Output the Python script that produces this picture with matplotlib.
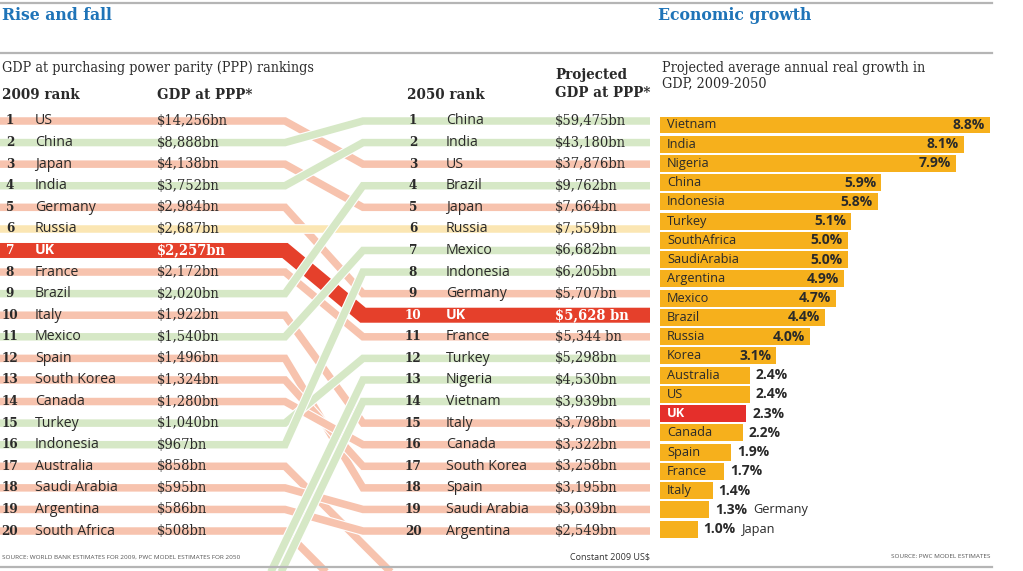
import matplotlib
matplotlib.use('Agg')
import matplotlib.pyplot as plt
import matplotlib.patheffects as pe
from matplotlib.lines import Line2D

# ---------------- data ----------------
countries_2009 = ['US', 'China', 'Japan', 'India', 'Germany', 'Russia', 'UK', 'France',
                  'Brazil', 'Italy', 'Mexico', 'Spain', 'South Korea', 'Canada', 'Turkey',
                  'Indonesia', 'Australia', 'Saudi Arabia', 'Argentina', 'South Africa']
gdp_2009 = [14256, 8888, 4138, 3752, 2984, 2687, 2257, 2172, 2020, 1922,
            1540, 1496, 1324, 1280, 1040, 967, 858, 595, 586, 508]

countries_2050 = ['China', 'India', 'US', 'Brazil', 'Japan', 'Russia', 'Mexico', 'Indonesia',
                  'Germany', 'UK', 'France', 'Turkey', 'Nigeria', 'Vietnam', 'Italy', 'Canada',
                  'South Korea', 'Spain', 'Saudi Arabia', 'Argentina']
gdp_2050 = [59475, 43180, 37876, 9762, 7664, 7559, 6682, 6205, 5707, 5628,
            5344, 5298, 4530, 3939, 3798, 3322, 3258, 3195, 3039, 2549]
gdp_2050_spaced = ['UK', 'France']   # printed as "$x bn" in the original

growth_countries = ['Vietnam', 'India', 'Nigeria', 'China', 'Indonesia', 'Turkey', 'SouthAfrica',
                    'SaudiArabia', 'Argentina', 'Mexico', 'Brazil', 'Russia', 'Korea', 'Australia',
                    'US', 'UK', 'Canada', 'Spain', 'France', 'Italy', 'Germany', 'Japan']
growth_values = [8.8, 8.1, 7.9, 5.9, 5.8, 5.1, 5.0, 5.0, 4.9, 4.7, 4.4, 4.0, 3.1, 2.4,
                 2.4, 2.3, 2.2, 1.9, 1.7, 1.4, 1.3, 1.0]
growth_inside = ['Vietnam', 'India', 'Nigeria', 'China', 'Indonesia', 'Turkey', 'SouthAfrica',
                 'SaudiArabia', 'Argentina', 'Mexico', 'Brazil', 'Russia', 'Korea']
growth_name_after = ['Germany', 'Japan']

# ---------------- style ----------------
W, H = 1023, 571
SERIF = 'DejaVu Serif'
COND = 'condensed'
SANS = 'Open Sans'
BLUE = '#1f74b8'
DOWN = '#f7c3ae'
UP = '#d6e8c6'
SAME = '#fbe6b3'
UKRED = '#e5402b'
BAR = '#f6b01c'
BARRED = '#e52f2b'
TXT = '#2a2a2a'
GRAY = '#b5b5b5'

Y0, DY = 121.0, 21.58        # pixel y of rank 1, row step
XL, XR = 285.0, 363.0        # start / end of the connecting diagonals
XEND = 650.0

def rank_at_px(p):
    return 1 + (p - Y0) / DY

fig = plt.figure(figsize=(W / 100, H / 100), dpi=100)
fig.patch.set_facecolor('white')

ax = fig.add_axes([0, 0, 1, 1])
ax.set_xlim(0, W)
ax.set_ylim(rank_at_px(H), rank_at_px(0))
ax.axis('off')

def ft(x, y, s, **kw):
    fig.text(x / W, 1 - y / H, s, **kw)

def hline(y, x0=0, x1=992, lw=1.6):
    fig.add_artist(Line2D([x0 / W, x1 / W], [1 - y / H, 1 - y / H], color=GRAY, lw=lw,
                          transform=fig.transFigure))

# rules
hline(2.5)
hline(52.5)
hline(566.5)

# ---------------- slope lines ----------------
lw_norm = 7.5 * 0.72
lw_uk = 15 * 0.72
outline = [pe.Stroke(linewidth=lw_norm + 1.6, foreground='white'), pe.Normal()]
outline_uk = [pe.Stroke(linewidth=lw_uk + 1.6, foreground='white'), pe.Normal()]
bottom_rank = rank_at_px(H + 6)

lines = []
for i, c in enumerate(countries_2009):
    r0 = i + 1
    if c in countries_2050:
        r1 = countries_2050.index(c) + 1
        xs = [0, XL, XR, XEND]
        ys = [r0, r0, r1, r1]
    else:
        # leaves the top 20: runs off the bottom
        dy_px = (H + 6) - (Y0 + (r0 - 1) * DY)
        xs = [0, XL, XL + 1.0 * dy_px]
        ys = [r0, r0, bottom_rank]
        r1 = 99
    if c == 'UK':
        col, z = UKRED, 3
    elif r1 < r0:
        col, z = UP, 4
    elif r1 == r0:
        col, z = SAME, 2
    else:
        col, z = DOWN, 1
    lines.append((xs, ys, col, z, c))

for c in countries_2050:
    if c not in countries_2009:
        r1 = countries_2050.index(c) + 1
        dy_px = (H + 6) - (Y0 + (r1 - 1) * DY)
        xs = [XR - 0.48 * dy_px, XR, XEND]
        ys = [bottom_rank, r1, r1]
        lines.append((xs, ys, UP, 4, c))

for xs, ys, col, z, c in lines:
    uk = c == 'UK'
    ax.plot(xs, ys, color=col, lw=lw_uk if uk else lw_norm, zorder=z,
            solid_joinstyle='miter', solid_capstyle='butt',
            path_effects=outline_uk if uk else outline)

# ---------------- left / right table text ----------------
fs_rank, fs_name, fs_val = 9.6, 10.2, 10.5
for i, c in enumerate(countries_2009):
    r = i + 1
    col = 'white' if c == 'UK' else TXT
    wt = 'bold' if c == 'UK' else 'normal'
    ax.text(10, r, str(r), ha='center', va='center', fontsize=fs_rank, family=SERIF,
            stretch=COND, weight='bold', color=col, zorder=10)
    ax.text(35, r, c, ha='left', va='center', fontsize=fs_name, family=SANS,
            weight=wt, color=col, zorder=10)
    ax.text(157, r, '${:,}bn'.format(gdp_2009[i]), ha='left', va='center', fontsize=fs_val,
            family=SERIF, stretch=COND, weight=wt, color=col, zorder=10)

for i, c in enumerate(countries_2050):
    r = i + 1
    col = 'white' if c == 'UK' else TXT
    wt = 'bold' if c == 'UK' else 'normal'
    sep = ' ' if c in gdp_2050_spaced else ''
    ax.text(413, r, str(r), ha='center', va='center', fontsize=fs_rank, family=SERIF,
            stretch=COND, weight='bold', color=col, zorder=10)
    ax.text(446, r, c, ha='left', va='center', fontsize=fs_name, family=SANS,
            weight=wt, color=col, zorder=10)
    ax.text(555, r, '${:,}{}bn'.format(gdp_2050[i], sep), ha='left', va='center',
            fontsize=fs_val, family=SERIF, stretch=COND, weight=wt, color=col, zorder=10)

# headers
fs_head = 10.8
hk = dict(family=SERIF, stretch=COND, color=TXT, va='center')
ft(2, 16, 'Rise and fall', fontsize=12.6, family=SERIF, stretch=COND, weight='bold',
   color=BLUE, va='center')
ft(658, 16, 'Economic growth', fontsize=12.6, family=SERIF, stretch=COND, weight='bold',
   color=BLUE, va='center')
ft(2, 68, 'GDP at purchasing power parity (PPP) rankings', fontsize=10.3, **hk)
ft(2, 95, '2009 rank', fontsize=fs_head, weight='bold', **hk)
ft(157, 95, 'GDP at PPP*', fontsize=fs_head, weight='bold', **hk)
ft(407, 95, '2050 rank', fontsize=fs_head, weight='bold', **hk)
ft(555, 75, 'Projected', fontsize=fs_head, weight='bold', **hk)
ft(555, 93, 'GDP at PPP*', fontsize=fs_head, weight='bold', **hk)
ft(662, 68, 'Projected average annual real growth in', fontsize=10.3, **hk)
ft(662, 83, 'GDP, 2009-2050', fontsize=10.3, **hk)

ft(2, 557, 'SOURCE: WORLD BANK ESTIMATES FOR 2009, PWC MODEL ESTIMATES FOR 2050',
   fontsize=4.6, family=SANS, color='#555555', va='center')
ft(650, 557, 'Constant 2009 US$', fontsize=6.5, family=SANS, color='#333333',
   va='center', ha='right')
ft(990, 557, 'SOURCE: PWC MODEL ESTIMATES', fontsize=4.6, family=SANS, color='#555555',
   va='center', ha='right')

# ---------------- growth bars ----------------
PX_PER_PCT = 37.5
BY0, BDY = 125.0, 19.24

def idx_at_px(p):
    return (p - BY0) / BDY

bx = fig.add_axes([660 / W, 0, (W - 660) / W, 1])
bx.set_xlim(0, (W - 660) / PX_PER_PCT)
bx.set_ylim(idx_at_px(H), idx_at_px(0))
bx.axis('off')
bx.patch.set_alpha(0)

ypos = list(range(len(growth_countries)))
colors = [BARRED if c == 'UK' else BAR for c in growth_countries]
bx.barh(ypos, growth_values, height=0.88, color=colors, zorder=1)

fs_bname, fs_bval = 9.2, 10
for i, (c, v) in enumerate(zip(growth_countries, growth_values)):
    uk = c == 'UK'
    lab = '{:.1f}%'.format(v)
    if c in growth_name_after:
        bx.annotate(lab, (v, i), xytext=(6 * 0.72, 0), textcoords='offset points',
                    ha='left', va='center', fontsize=fs_bval, family=SANS,
                    weight='bold', color=TXT)
        bx.annotate(c, (v, i), xytext=(44 * 0.72, 0), textcoords='offset points',
                    ha='left', va='center', fontsize=fs_bname, family=SANS, color=TXT)
        continue
    bx.annotate(c, (0, i), xytext=(7 * 0.72, 0), textcoords='offset points',
                ha='left', va='center', fontsize=fs_bname, family=SANS,
                weight='bold' if uk else 'normal', color='white' if uk else TXT)
    if c in growth_inside:
        bx.annotate(lab, (v, i), xytext=(-5 * 0.72, 0), textcoords='offset points',
                    ha='right', va='center', fontsize=fs_bval, family=SANS, weight='bold',
                    color=TXT)
    else:
        bx.annotate(lab, (v, i), xytext=(6 * 0.72, 0), textcoords='offset points',
                    ha='left', va='center', fontsize=fs_bval, family=SANS,
                    weight='bold', color=TXT)

fig.savefig('out.png', dpi=100, facecolor='white')
